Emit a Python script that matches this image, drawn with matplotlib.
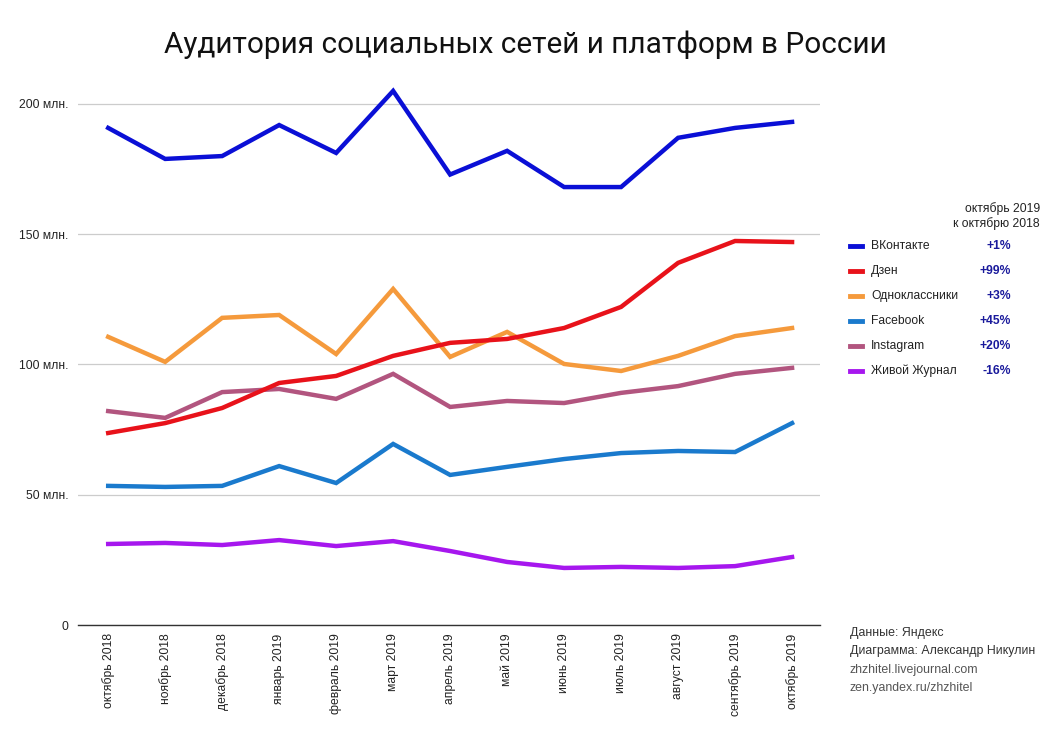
import matplotlib.pyplot as plt
from matplotlib.ticker import FixedLocator

# Monthly audience, millions
months = ['октябрь 2018', 'ноябрь 2018', 'декабрь 2018', 'январь 2019', 'февраль 2019',
          'март 2019', 'апрель 2019', 'май 2019', 'июнь 2019', 'июль 2019',
          'август 2019', 'сентябрь 2019', 'октябрь 2019']

vk = [190.8, 178.9, 180.0, 191.9, 181.2, 205.0, 172.9, 182.0, 168.1, 168.1, 187.0, 190.8, 193.1]
dzen = [73.7, 77.5, 83.3, 92.9, 95.6, 103.3, 108.3, 109.8, 114.0, 122.1, 139.0, 147.4, 147.0]
ok = [110.6, 101.0, 117.9, 119.0, 104.0, 129.0, 102.9, 112.5, 100.2, 97.5, 103.3, 110.9, 114.0]
facebook = [53.4, 53.0, 53.4, 61.0, 54.5, 69.5, 57.6, 60.7, 63.7, 66.0, 66.8, 66.4, 77.5]
instagram = [82.1, 79.5, 89.4, 90.6, 86.8, 96.4, 83.7, 86.0, 85.2, 89.1, 91.7, 96.4, 98.7]
lj = [31.1, 31.5, 30.7, 32.6, 30.3, 32.2, 28.4, 24.2, 21.9, 22.3, 21.9, 22.6, 26.1]

names = ['ВКонтакте', 'Дзен', 'Одноклассники', 'Facebook', 'Instagram', 'Живой Журнал']
changes = ['+1%', '+99%', '+3%', '+45%', '+20%', '-16%']
colors = ['#0a0fd6', '#e8121a', '#f59a3c', '#1a7acd', '#b2557f', '#a617ee']
series = [vk, dzen, ok, facebook, instagram, lj]

y_ticks = [0, 50, 100, 150, 200]
y_labels = ['0', '50 млн.', '100 млн.', '150 млн.', '200 млн.']

plt.rcParams['font.family'] = ['Liberation Sans', 'DejaVu Sans']

fig = plt.figure(figsize=(10.51, 7.38), dpi=100)
ax = fig.add_axes([0.0742, 0.1531, 0.706, 0.759])

x = list(range(len(months)))
# draw from bottom of legend upward so VK sits on top
for vals, c in reversed(list(zip(series, colors))):
    ax.plot(x, vals, color=c, linewidth=3.2, solid_joinstyle='miter')

ax.set_xlim(-0.53, 12.49)
ax.set_ylim(0, 215)
ax.yaxis.set_major_locator(FixedLocator(y_ticks))
ax.set_yticklabels(y_labels, fontsize=8.7, color='#222222')
ax.set_xticks(x)
ax.set_xticklabels(months, rotation=90, fontsize=8.7, color='#222222')
ax.tick_params(axis='y', length=0, pad=7)
ax.tick_params(axis='x', length=0, pad=6)
ax.grid(axis='y', color='#cccccc', linewidth=0.9)
ax.set_axisbelow(True)
for s in ['top', 'right', 'left']:
    ax.spines[s].set_visible(False)
ax.spines['bottom'].set_color('#333333')
ax.spines['bottom'].set_linewidth(1.0)

fig.text(0.5, 0.94, 'Аудитория социальных сетей и платформ в России',
         ha='center', va='center', fontsize=21.4, family='Roboto', color='#111111')

# legend block on the right
fig.text(1040 / 1051, 1 - 216 / 738, 'октябрь 2019\nк октябрю 2018', ha='right', va='center',
         fontsize=8.7, color='#222222', linespacing=1.2)
for i, (name, ch, c) in enumerate(zip(names, changes, colors)):
    yy = 1 - (246 + 25 * i) / 738
    fig.add_artist(plt.Line2D([850 / 1051, 862 / 1051], [yy, yy], color=c, linewidth=3.5))
    fig.text(871 / 1051, yy, name, ha='left', va='center', fontsize=8.7, color='#222222')
    fig.text(1011 / 1051, yy, ch, ha='right', va='center', fontsize=8.7,
             fontweight='bold', color='#1a1a9c')

footer = [('Данные: Яндекс', '#333333'), ('Диаграмма: Александр Никулин', '#333333'),
          ('zhzhitel.livejournal.com', '#555555'), ('zen.yandex.ru/zhzhitel', '#555555')]
for i, (t, c) in enumerate(footer):
    fig.text(850 / 1051, 1 - (633 + 18.3 * i) / 738, t, ha='left', va='center',
             fontsize=8.9, color=c)

fig.savefig('out.png', dpi=100, facecolor='white')
